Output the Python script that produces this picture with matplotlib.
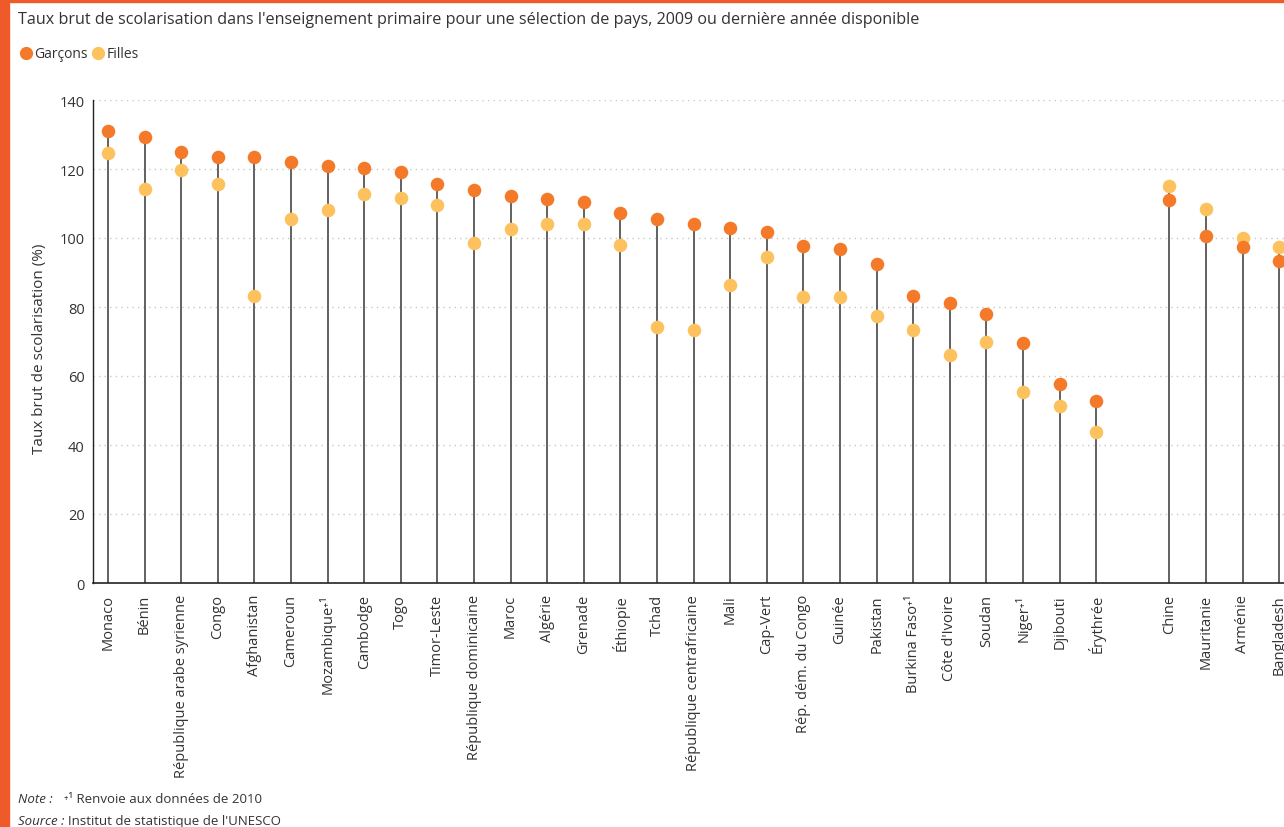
import matplotlib
matplotlib.use("Agg")
import matplotlib.pyplot as plt
from matplotlib.lines import Line2D
from matplotlib.patches import Rectangle
import numpy as np

plt.rcParams['font.family'] = ['Open Sans', 'DejaVu Sans']

countries = ["Monaco", "Bénin", "République arabe syrienne", "Congo", "Afghanistan",
             "Cameroun", "Mozambique⁺¹", "Cambodge", "Togo", "Timor-Leste",
             "République dominicaine", "Maroc", "Algérie", "Grenade", "Éthiopie",
             "Tchad", "République centrafricaine", "Mali", "Cap-Vert", "Rép. dém. du Congo",
             "Guinée", "Pakistan", "Burkina Faso⁺¹", "Côte d'Ivoire", "Soudan",
             "Niger⁺¹", "Djibouti", "Érythrée", "", "Chine", "Mauritanie", "Arménie",
             "Bangladesh"]
garcons = [130.9, 129.4, 124.8, 123.6, 123.6, 122.1, 120.8, 120.2, 119.1, 115.7,
           114.0, 112.1, 111.2, 110.5, 107.2, 105.4, 104.1, 103.0, 101.8, 97.7,
           96.8, 92.6, 83.1, 81.3, 77.9, 69.5, 57.6, 52.8, None, 110.9, 100.7, 97.4,
           93.3]
filles = [124.5, 114.2, 119.7, 115.6, 83.2, 105.5, 108.2, 112.8, 111.6, 109.5,
          98.6, 102.7, 104.2, 104.0, 97.9, 74.3, 73.4, 86.4, 94.6, 83.0,
          82.8, 77.3, 73.4, 66.1, 69.9, 55.4, 51.4, 43.8, None, 115.2, 108.5, 100.0,
          97.3]
yticks = [0, 20, 40, 60, 80, 100, 120, 140]

ORANGE = '#F47A2A'
YELLOW = '#FDC15E'
TEXT = '#333333'
BORDER = '#EE5A2A'

fig = plt.figure(figsize=(12.84, 8.28), dpi=100)
ax = fig.add_axes([93/1284, 1-584/828, 1-93/1284, (584-101)/828])

x = np.arange(len(countries))
for i in range(len(countries)):
    g, f = garcons[i], filles[i]
    if g is None:
        continue
    ax.plot([i, i], [0, max(g, f)], color='#555555', lw=1.3, zorder=2, solid_capstyle='butt')

xs = [i for i in x if garcons[i] is not None]
ax.scatter(xs, [garcons[i] for i in xs], s=95, color=ORANGE, zorder=4, linewidths=0)
ax.scatter(xs, [filles[i] for i in xs], s=95, color=YELLOW, zorder=3, linewidths=0)

ax.set_xlim(-0.41, 32.13)
ax.set_ylim(0, 140)
ax.set_yticks(yticks)
ax.set_yticklabels([str(v) for v in yticks], fontsize=10.5, color=TEXT)
for v in yticks[1:]:
    ax.axhline(v, color='#c8c8c8', lw=1.0, ls=(0, (1, 3)), zorder=1)

ax.set_xticks(x)
ax.set_xticklabels(countries, rotation=90, fontsize=10.5, color=TEXT)
ax.tick_params(axis='both', length=0, pad=6)
ax.tick_params(axis='x', pad=8)
for s in ['top', 'right']:
    ax.spines[s].set_visible(False)
ax.spines['left'].set_color('#222222')
ax.spines['bottom'].set_color('#222222')
ax.spines['left'].set_linewidth(1.0)
ax.spines['bottom'].set_linewidth(1.2)

fig.text(40/1284, 1-349/828, "Taux brut de scolarisation (%)", rotation=90,
         ha='center', va='center', fontsize=11, color=TEXT)

fig.text(18/1284, 1-20/828, "Taux brut de scolarisation dans l'enseignement primaire pour une sélection de pays, 2009 ou dernière année disponible",
         ha='left', va='center', fontsize=11.6, color=TEXT)

handles = [Line2D([], [], marker='o', ls='', color=ORANGE, markersize=8.5, label='Garçons'),
           Line2D([], [], marker='o', ls='', color=YELLOW, markersize=8.5, label='Filles')]
fig.legend(handles=handles, loc='center left', bbox_to_anchor=(12/1284, 1-55/828),
           ncol=2, frameon=False, fontsize=10, handletextpad=0.0, columnspacing=0.15,
           borderaxespad=0, handlelength=1.2, labelcolor=TEXT)

fig.text(18/1284, 1-800/828, "Note :", style='italic', fontsize=9.5, color=TEXT, va='center')
fig.text(64/1284, 1-800/828, "⁺¹ Renvoie aux données de 2010", fontsize=9.5, color=TEXT, va='center')
fig.text(18/1284, 1-822/828, "Source :", style='italic', fontsize=9.5, color=TEXT, va='center')
fig.text(68/1284, 1-822/828, "Institut de statistique de l'UNESCO", fontsize=9.5, color=TEXT, va='center')

fig.patches.append(Rectangle((0, 0), 9/1284, 1, transform=fig.transFigure, color=BORDER, zorder=10))
fig.patches.append(Rectangle((0, 1-3/828), 1, 3/828, transform=fig.transFigure, color=BORDER, zorder=10))

fig.savefig("out.png", dpi=100)
